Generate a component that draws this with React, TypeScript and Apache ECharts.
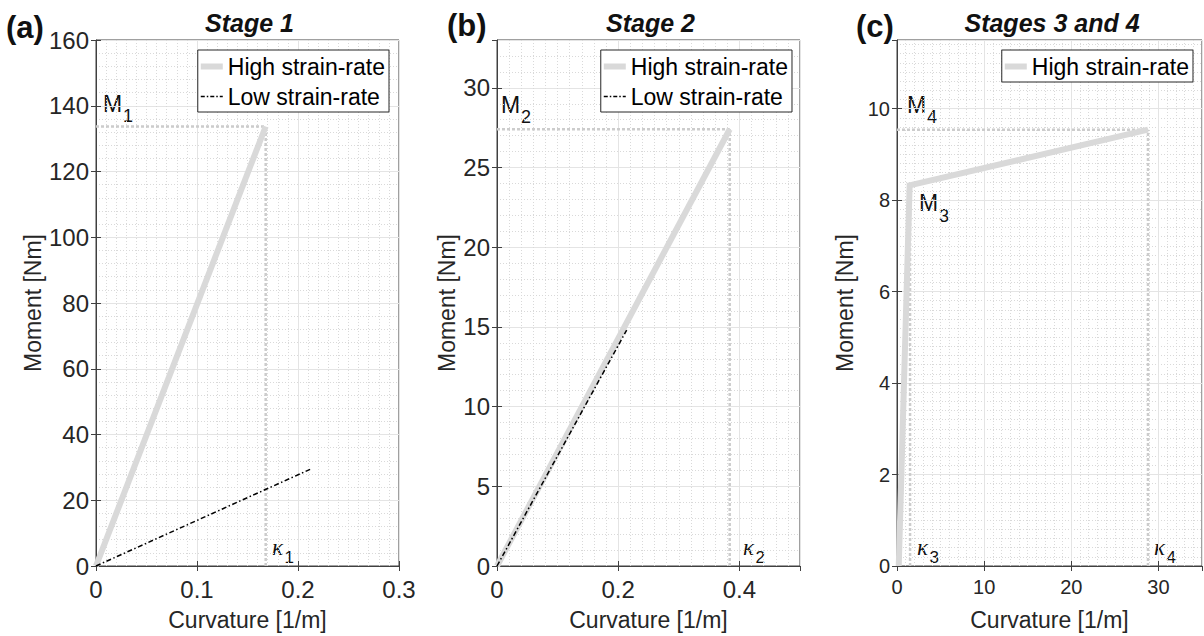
import React, { useEffect, useRef } from "react";
import * as echarts from "echarts";

// ---------- data ----------
const stage1High: number[][] = [[0, 0], [0.168, 133.7]];
const stage1Low: number[][] = [[0, 0], [0.212, 29.4]];
const stage2High: number[][] = [[0, 0], [0.384, 27.4]];
const stage2Low: number[][] = [[0, 0], [0.214, 14.8]];
const stage34High: number[][] = [[0.2, 0], [1.45, 8.32], [28.8, 9.54]];

const kappa1 = 0.168, M1 = 133.7;
const kappa2 = 0.384, M2 = 27.4;
const kappa3 = 1.5, M3 = 8.32;
const kappa4 = 28.8, M4 = 9.54;

const panelTitles = ["Stage 1", "Stage 2", "Stages 3 and 4"];
const panelLetters = ["(a)", "(b)", "(c)"];
const HIGH = "High strain-rate";
const LOW = "Low strain-rate";

const FONT = '"Liberation Sans", Arial, Helvetica, sans-serif';
const AXIS = "#262626";
const AXLINE = "#404040";
const GRIDC = "#e4e4e4";
const MINORC = "#d9d9d9";
const HIGHC = "#d9d9d9";
const REFC = "#cccccc";

const HIGH_ICON = "path://M0,0H22V6H0Z";
const LOW_ICON =
  "path://M0,0H4V1.5H0Z M6,0H7.5V1.5H6Z M9.5,0H13.5V1.5H9.5Z M15.5,0H17V1.5H15.5Z M19,0H22V1.5H19Z";

function mainX(gi: number, min: number, max: number, interval: number, minor: number, fs: number, showMax: boolean) {
  return {
    type: "value", gridIndex: gi, min, max, interval, position: "bottom",
    name: "Curvature [1/m]", nameLocation: "middle", nameGap: 42,
    nameTextStyle: { fontSize: 23, color: AXIS, fontFamily: FONT },
    axisLine: { show: true, onZero: false, lineStyle: { color: AXLINE, width: 1 } },
    axisTick: { show: true, inside: true, length: 5, lineStyle: { color: AXLINE } },
    axisLabel: { show: true, fontSize: fs, color: AXIS, fontFamily: FONT, margin: 11, showMaxLabel: showMax, showMinLabel: true },
    splitLine: { show: true, lineStyle: { color: GRIDC, width: 1 } },
    minorTick: { show: false, splitNumber: minor },
    minorSplitLine: { show: true, lineStyle: { color: MINORC, width: 1, type: [1, 2] } },
  };
}
function topX(gi: number, min: number, max: number, interval: number) {
  return {
    type: "value", gridIndex: gi, min, max, interval, position: "top",
    axisLine: { show: false }, axisLabel: { show: false }, splitLine: { show: false },
    axisTick: { show: true, inside: true, length: 5, lineStyle: { color: AXLINE } },
  };
}
function mainY(gi: number, min: number, max: number, interval: number, minor: number, fs: number, showMax: boolean, gap: number) {
  return {
    type: "value", gridIndex: gi, min, max, interval, position: "left",
    name: "Moment [Nm]", nameLocation: "middle", nameGap: gap,
    nameTextStyle: { fontSize: 23, color: AXIS, fontFamily: FONT },
    axisLine: { show: true, onZero: false, lineStyle: { color: AXLINE, width: 1 } },
    axisTick: { show: true, inside: true, length: 5, lineStyle: { color: AXLINE } },
    axisLabel: { show: true, fontSize: fs, color: AXIS, fontFamily: FONT, margin: 7, showMaxLabel: showMax },
    splitLine: { show: true, lineStyle: { color: GRIDC, width: 1 } },
    minorTick: { show: false, splitNumber: minor },
    minorSplitLine: { show: true, lineStyle: { color: MINORC, width: 1, type: [1, 2] } },
  };
}
function rightY(gi: number, min: number, max: number, interval: number) {
  return {
    type: "value", gridIndex: gi, min, max, interval, position: "right",
    axisLine: { show: false }, axisLabel: { show: false }, splitLine: { show: false },
    axisTick: { show: true, inside: true, length: 5, lineStyle: { color: AXLINE } },
  };
}

function refLine(axis: number, data: number[][]) {
  return {
    type: "line", name: "ref", xAxisIndex: axis, yAxisIndex: axis, data,
    symbol: "none", silent: true,
    lineStyle: { color: REFC, width: 2.5, type: [3, 2] },
  };
}
function highLine(axis: number, data: number[][]) {
  return {
    type: "line", name: HIGH, xAxisIndex: axis, yAxisIndex: axis, data,
    symbol: "none", showSymbol: false, color: HIGHC,
    itemStyle: { color: HIGHC },
    lineStyle: { color: HIGHC, width: 6, cap: "butt", join: "miter" },
  };
}
function lowLine(axis: number, data: number[][]) {
  return {
    type: "line", name: LOW, xAxisIndex: axis, yAxisIndex: axis, data,
    symbol: "none", showSymbol: false, color: "#000",
    itemStyle: { color: "#000" },
    lineStyle: { color: "#000", width: 1.5, type: [5, 2.5, 1.5, 2.5] },
  };
}

function legend(right: number, withLow: boolean) {
  const data: any[] = [{ name: HIGH, icon: HIGH_ICON }];
  if (withLow) data.push({ name: LOW, icon: LOW_ICON });
  return {
    show: true, orient: "vertical", right, top: 50, data,
    backgroundColor: "#fff", borderColor: AXIS, borderWidth: 1, borderRadius: 0,
    padding: [5, 4, 4, 3], itemGap: 7, itemWidth: 22, itemHeight: 16,
    selectedMode: false, align: "left", symbolKeepAspect: true,
    itemStyle: { borderWidth: 0 },
    lineStyle: { width: 0 },
    textStyle: { fontSize: 23, color: "#000", fontFamily: FONT },
  };
}

function txt(x: number, y: number, text: string, size: number, extra: any = {}) {
  return {
    type: "text", x, y, silent: true,
    style: { text, fontSize: size, fontFamily: FONT, fill: "#111", align: "left", verticalAlign: "middle", ...extra },
  };
}
function label(x: number, y: number, main: string, sub: string, subDx: number, subDy: number, kappa: boolean) {
  if (kappa) {
    return [
      txt(x, y, main, 23, { fontFamily: '"Liberation Serif", "DejaVu Serif", serif', fontStyle: "italic" }),
      txt(x + subDx, y + subDy, sub, 17),
    ];
  }
  return [txt(x, y, main, 23), txt(x + subDx, y + subDy, sub, 18)];
}

export default function App() {
  const ref = useRef<HTMLDivElement>(null);
  useEffect(() => {
    document.body.style.margin = "0";
    const chart = echarts.init(ref.current!, undefined, { renderer: "svg" });
    const gridBase = { show: true, backgroundColor: "#fff", borderColor: AXLINE, borderWidth: 1, containLabel: false };
    const bold = { fontWeight: "bold", fontStyle: "italic", align: "center" };
    const option: any = {
      animation: false,
      backgroundColor: "#fff",
      textStyle: { fontFamily: FONT },
      grid: [
        { ...gridBase, left: 96, top: 40, width: 303, height: 527 },
        { ...gridBase, left: 497, top: 40, width: 303, height: 527 },
        { ...gridBase, left: 897, top: 40, width: 305, height: 527 },
      ],
      xAxis: [
        mainX(0, 0, 0.3, 0.1, 10, 24, true), topX(0, 0, 0.3, 0.1),
        mainX(1, 0, 0.5, 0.2, 10, 24, false), topX(1, 0, 0.5, 0.2),
        mainX(2, 0, 35, 10, 10, 20, false), topX(2, 0, 35, 10),
      ],
      yAxis: [
        mainY(0, 0, 160, 20, 5, 24, true, 52), rightY(0, 0, 160, 20),
        mainY(1, 0, 33, 5, 5, 24, false, 39), rightY(1, 0, 33, 5),
        mainY(2, 0, 11.5, 2, 10, 20, false, 41), rightY(2, 0, 11.5, 2),
      ],
      legend: [legend(815, true), legend(412, true), legend(11, false)],
      series: [
        refLine(0, [[0, M1], [kappa1, M1]]),
        refLine(0, [[kappa1, 0], [kappa1, M1]]),
        highLine(0, stage1High),
        lowLine(0, stage1Low),
        refLine(2, [[0, M2], [kappa2, M2]]),
        refLine(2, [[kappa2, 0], [kappa2, M2]]),
        highLine(2, stage2High),
        lowLine(2, stage2Low),
        refLine(4, [[0, M4], [kappa4, M4]]),
        refLine(4, [[kappa3, 0], [kappa3, M3]]),
        refLine(4, [[kappa4, 0], [kappa4, M4]]),
        highLine(4, stage34High),
      ],
      graphic: [
        txt(249.5, 23, panelTitles[0], 25, bold),
        txt(650.5, 23, panelTitles[1], 25, bold),
        txt(1052, 23, panelTitles[2], 25, bold),
        txt(6, 27, panelLetters[0], 31, { fontWeight: "bold" }),
        txt(447, 25, panelLetters[1], 31, { fontWeight: "bold" }),
        txt(856, 26, panelLetters[2], 31, { fontWeight: "bold" }),
        ...label(103, 104, "M", "1", 20, 12, false),
        ...label(501, 105, "M", "2", 20, 12, false),
        ...label(907, 105, "M", "4", 20, 12, false),
        ...label(919, 203, "M", "3", 20, 13, false),
        ...label(272, 547, "κ", "1", 12.5, 10, true),
        ...label(743, 547, "κ", "2", 12.5, 10, true),
        ...label(917, 547, "κ", "3", 12.5, 10, true),
        ...label(1154, 547, "κ", "4", 12.5, 10, true),
      ],
    };
    chart.setOption(option);
    return () => chart.dispose();
  }, []);
  return <div ref={ref} style={{ width: 1204, height: 636 }} />;
}
